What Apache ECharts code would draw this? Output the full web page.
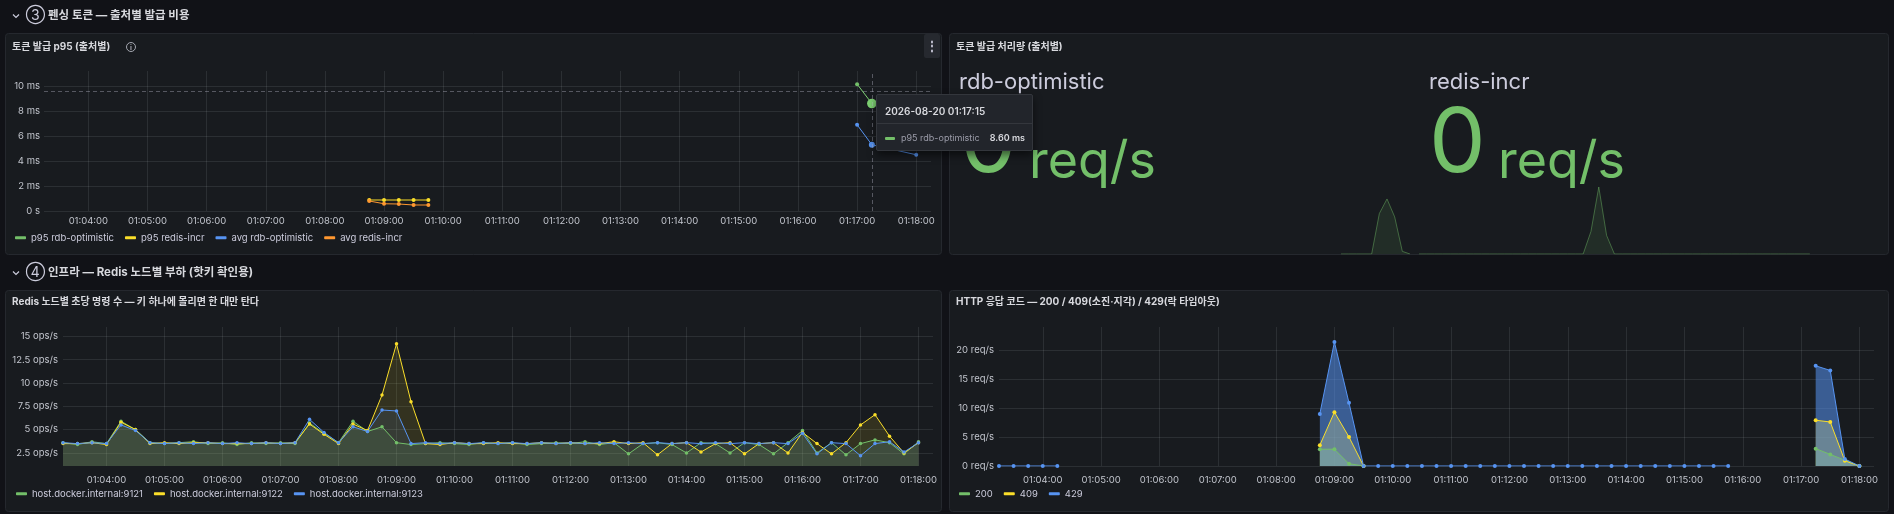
<!DOCTYPE html>
<html>
<head>
<meta charset="utf-8">
<script src="https://cdn.jsdelivr.net/npm/echarts@6.0.0/dist/echarts.min.js"></script>
<style>
  html, body { margin: 0; padding: 0; background: #111217; }
  #chart { width: 1894px; height: 514px; }
</style>
</head>
<body>
<div id="chart"></div>
<script>
// Dashboard range: 2026-08-20 01:03:15 - 01:18:15, 15 s scrape step
const day = [2026, 7, 20];
const rangeStart = "01:03:15";
const rangeEnd = "01:18:15";
const stepSec = 15;
const minuteTicks = [
  "01:04:00", "01:05:00", "01:06:00", "01:07:00", "01:08:00", "01:09:00", "01:10:00", "01:11:00",
  "01:12:00", "01:13:00", "01:14:00", "01:15:00", "01:16:00", "01:17:00", "01:18:00"
];

// ③ token issue p95 (ms)
const latencyTicks = [0, 2, 4, 6, 8, 10];
const rdbP95Times = ["01:17:00", "01:17:15"];
const p95RdbOptimistic = [10.15, 8.6];
const redisTimes = ["01:08:45", "01:09:00", "01:09:15", "01:09:30", "01:09:45"];
const p95RedisIncr = [0.88, 0.88, 0.88, 0.88, 0.88];
const rdbAvgTimes = ["01:17:00", "01:17:15", "01:18:00"];
const avgRdbOptimistic = [6.9, 5.3, 4.5];
const avgRedisIncr = [0.8, 0.58, 0.56, 0.48, 0.48];

// hovered point (shared cursor)
const hoverTime = "01:17:15";
const hoverValue = 9.6;

// ③ token issue throughput (req/s), sparklines
const rdbRateStart = "01:16:00";
const rdbOptimisticRate = [0, 0, 0, 0, 0, 6.1, 8.3, 5.6, 0.4, 0];
const redisRateStart = "01:03:15";
const redisIncrRate = [
  0, 0, 0, 0, 0, 0, 0, 0, 0, 0,
  0, 0, 0, 0, 0, 0, 0, 0, 0, 0,
  0, 0, 3.4, 10.1, 2.8, 0, 0, 0, 0, 0,
  0, 0, 0, 0, 0, 0, 0, 0, 0, 0,
  0, 0, 0, 0, 0, 0, 0, 0, 0, 0,
  0
];

// ④ redis ops/s per node, from 01:03:15 every 15 s
const opsTicks = [2.5, 5, 7.5, 10, 12.5, 15];
const opsStart = "01:03:15";
const node9121 = [
  3.6, 3.4, 3.7, 3.5, 5.9, 5.0, 3.6, 3.5, 3.6, 3.7,
  3.5, 3.6, 3.4, 3.6, 3.5, 3.6, 3.5, 5.7, 4.6, 3.6,
  5.9, 4.8, 5.3, 3.6, 3.4, 3.5, 3.6, 3.5, 3.4, 3.6,
  3.5, 3.6, 3.4, 3.5, 3.6, 3.5, 3.7, 3.4, 3.6, 2.4,
  3.5, 3.6, 3.4, 2.5, 3.6, 3.5, 2.5, 3.6, 3.4, 2.4,
  3.6, 4.9, 2.5, 3.6, 2.3, 3.5, 3.9, 3.6, 2.4, 3.7
];
const node9122 = [
  3.5, 3.5, 3.6, 3.4, 5.8, 5.0, 3.5, 3.6, 3.5, 3.6,
  3.6, 3.5, 3.5, 3.5, 3.6, 3.5, 3.6, 5.6, 4.5, 3.5,
  5.6, 4.9, 8.7, 14.2, 8.0, 3.5, 3.4, 3.6, 3.5, 3.5,
  3.6, 3.5, 3.5, 3.6, 3.5, 3.6, 3.5, 3.5, 3.7, 3.5,
  3.6, 2.3, 3.5, 3.6, 2.6, 3.5, 3.6, 2.4, 3.5, 3.6,
  2.5, 4.7, 3.5, 2.4, 3.6, 5.5, 6.6, 4.3, 2.5, 3.6
];
const node9123 = [
  3.6, 3.5, 3.6, 3.5, 5.5, 4.9, 3.6, 3.5, 3.6, 3.5,
  3.6, 3.5, 3.6, 3.5, 3.6, 3.5, 3.6, 6.1, 4.7, 3.6,
  5.3, 4.8, 7.1, 7.0, 3.5, 3.6, 3.5, 3.6, 3.5, 3.6,
  3.5, 3.6, 3.5, 3.6, 3.5, 3.6, 3.5, 3.6, 3.5, 3.6,
  3.5, 3.6, 3.5, 3.6, 3.5, 3.6, 3.5, 3.6, 3.5, 3.6,
  3.5, 4.6, 2.4, 3.6, 3.5, 2.2, 3.5, 3.7, 2.6, 3.6
];

// ④ HTTP status rate (req/s), from 01:03:15 every 15 s
const reqTicks = [0, 5, 10, 15, 20];
const httpStart = "01:03:15";
const http200 = [
  null, null, null, null, null, null, null, null, null, null,
  null, null, null, null, null, null, null, null, null, null,
  null, null, 2.9, 2.9, 0.4, 0, null, null, null, null,
  null, null, null, null, null, null, null, null, null, null,
  null, null, null, null, null, null, null, null, null, null,
  null, null, null, null, null, null, 3.0, 2.0, 1.0, 0
];
const http409 = [
  null, null, null, null, null, null, null, null, null, null,
  null, null, null, null, null, null, null, null, null, null,
  null, null, 3.6, 9.3, 5.0, 0, null, null, null, null,
  null, null, null, null, null, null, null, null, null, null,
  null, null, null, null, null, null, null, null, null, null,
  null, null, null, null, null, null, 7.9, 7.6, 0.9, 0
];
const http429 = [
  0, 0, 0, 0, 0, null, null, null, null, null,
  null, null, null, null, null, null, null, null, null, null,
  null, null, 9.0, 21.4, 10.9, 0, 0, 0, 0, 0,
  0, 0, 0, 0, 0, 0, 0, 0, 0, 0,
  0, 0, 0, 0, 0, 0, 0, 0, 0, 0,
  0, null, null, null, null, null, 17.3, 16.5, 1.2, 0
];

const FONT = "Inter, 'Noto Sans CJK KR', sans-serif";
const TEXT = "#ccccdc";
const AXIS_TEXT = "#c2c5cd";
const GRID_LINE = "rgba(240,250,255,0.09)";
const GREEN = "#73BF69";
const YELLOW = "#FADE2A";
const BLUE = "#5794F2";
const ORANGE = "#FF9830";

function ts(hms) {
  let p = hms.split(":").map(Number);
  return new Date(day[0], day[1], day[2], p[0], p[1], p[2]).getTime();
}

function pad(n) {
  return n < 10 ? "0" + n : "" + n;
}

function hms(v) {
  let d = new Date(v);
  return pad(d.getHours()) + ":" + pad(d.getMinutes()) + ":" + pad(d.getSeconds());
}

function zip(times, values) {
  return times.map((t, i) => [ts(t), values[i]]);
}

function stepped(start, values) {
  let t0 = ts(start);
  return values.map((v, i) => [t0 + i * stepSec * 1000, v]);
}

// x axes are plain value axes holding epoch ms, so label positions can be pinned
function timeAxis(gridIndex, show, margin) {
  let ticks = minuteTicks.map(ts);
  return {
    type: "value",
    gridIndex: gridIndex,
    show: show,
    min: ts(rangeStart),
    max: ts(rangeEnd),
    axisLine: { show: false },
    axisTick: { show: false, customValues: ticks },
    axisLabel: {
      customValues: ticks,
      formatter: hms,
      color: AXIS_TEXT,
      fontSize: 9.5,
      fontFamily: FONT,
      margin: margin,
      hideOverlap: false
    },
    splitLine: { show: true, lineStyle: { color: GRID_LINE, width: 1 } },
    axisPointer: { snap: true }
  };
}

function valueAxis(gridIndex, min, max, ticks, fmt, margin) {
  return {
    type: "value",
    gridIndex: gridIndex,
    min: min,
    max: max,
    axisLine: { show: false },
    axisTick: { show: false, customValues: ticks },
    axisLabel: {
      customValues: ticks,
      formatter: fmt,
      color: AXIS_TEXT,
      fontSize: 9.5,
      fontFamily: FONT,
      margin: margin
    },
    splitLine: { show: true, lineStyle: { color: GRID_LINE, width: 1 } },
    axisPointer: { snap: false, triggerTooltip: false }
  };
}

function lineSeries(name, color, axis, data, extra) {
  let s = {
    name: name,
    type: "line",
    xAxisIndex: axis,
    yAxisIndex: axis,
    data: data,
    color: color,
    symbol: "circle",
    symbolSize: 4,
    showSymbol: true,
    connectNulls: false,
    lineStyle: { width: 1, color: color },
    itemStyle: { color: color },
    emphasis: { disabled: true }
  };
  return Object.assign(s, extra || {});
}

function text(str, x, y, size, weight, color, align) {
  return {
    type: "text",
    x: x,
    y: y,
    z: 20,
    silent: true,
    style: {
      text: str,
      fill: color,
      font: weight + " " + size + "px " + FONT,
      verticalAlign: "middle",
      align: align || "left"
    }
  };
}

function panelBox(x, y, w, h) {
  return {
    type: "rect",
    z: -10,
    silent: true,
    shape: { x: x, y: y, width: w, height: h, r: 3 },
    style: { fill: "#181b1f", stroke: "#25282e", lineWidth: 1 }
  };
}

function chevron(cx, cy) {
  return {
    type: "polyline",
    z: 20,
    silent: true,
    shape: { points: [[cx - 3, cy - 1.5], [cx, cy + 1.5], [cx + 3, cy - 1.5]] },
    style: { stroke: TEXT, lineWidth: 1.2, fill: null }
  };
}

// stat values = last sample of each throughput series
const rdbLast = Math.round(rdbOptimisticRate[rdbOptimisticRate.length - 1]);
const redisLast = Math.round(redisIncrRate[redisIncrRate.length - 1]);
const sparkMax = Math.max(...rdbOptimisticRate, ...redisIncrRate);

const chart = echarts.init(document.getElementById("chart"));

const legendCommon = {
  orient: "horizontal",
  padding: 0,
  itemGap: 11,
  itemWidth: 11,
  itemHeight: 3,
  icon: "roundRect",
  selectedMode: false,
  textStyle: { color: TEXT, fontSize: 9.5, fontFamily: FONT }
};

const option = {
  animation: false,
  backgroundColor: "#111217",
  grid: [
    { left: 44, top: 71, width: 887, height: 140, containLabel: false, outerBoundsMode: "none" },
    { left: 63, top: 327, width: 870, height: 139, containLabel: false, outerBoundsMode: "none" },
    { left: 999, top: 327, width: 875, height: 139, containLabel: false, outerBoundsMode: "none" },
    { left: 950, top: 187, width: 460, height: 67, containLabel: false, outerBoundsMode: "none" },
    { left: 1419, top: 187, width: 469, height: 67, containLabel: false, outerBoundsMode: "none" }
  ],
  xAxis: [
    timeAxis(0, true, 5),
    timeAxis(1, true, 9),
    timeAxis(2, true, 9),
    timeAxis(3, false, 0),
    timeAxis(4, false, 0)
  ],
  yAxis: [
    valueAxis(0, 0, 11.2, latencyTicks, v => (v === 0 ? "0 s" : v + " ms"), 4),
    valueAxis(1, 1.1, 16, opsTicks, v => v + " ops/s", 5),
    valueAxis(2, 0, 24, reqTicks, v => v + " req/s", 5),
    { type: "value", gridIndex: 3, show: false, min: 0, max: sparkMax },
    { type: "value", gridIndex: 4, show: false, min: 0, max: sparkMax }
  ],
  legend: [
    Object.assign({ left: 15, top: 233, data: ["p95 rdb-optimistic", "p95 redis-incr", "avg rdb-optimistic", "avg redis-incr"] }, legendCommon),
    Object.assign({ left: 16, top: 489, data: ["host.docker.internal:9121", "host.docker.internal:9122", "host.docker.internal:9123"] }, legendCommon),
    Object.assign({ left: 959, top: 489, data: ["200", "409", "429"] }, legendCommon)
  ],
  tooltip: {
    show: true,
    trigger: "axis",
    triggerOn: "none",
    alwaysShowContent: true,
    transitionDuration: 0,
    showDelay: 0,
    confine: false,
    padding: 0,
    backgroundColor: "#22252b",
    borderColor: "#33363c",
    borderWidth: 1,
    extraCssText: "border-radius:2px;box-shadow:0 4px 8px rgba(0,0,0,0.55);",
    axisPointer: {
      type: "cross",
      label: { show: false },
      crossStyle: { color: "rgba(204,204,220,0.35)", width: 1, type: [4, 3] },
      lineStyle: { color: "rgba(204,204,220,0.35)", width: 1, type: [4, 3] }
    },
    position: function () {
      return [876, 94];
    },
    formatter: function (params) {
      let list = Array.isArray(params) ? params : [params];
      let p = list.find(q => q.seriesName === "p95 rdb-optimistic") || list[0];
      if (!p) return "";
      let t = p.data[0];
      let d = new Date(t);
      let head = d.getFullYear() + "-" + pad(d.getMonth() + 1) + "-" + pad(d.getDate()) + " " + hms(t);
      return (
        "<div style=\"min-width:155px;box-sizing:border-box;white-space:nowrap;font-family:Inter,'Noto Sans CJK KR',sans-serif;font-size:9px;line-height:12px;\">" +
        "<div style=\"padding:10px 8px 6px 8px;font-weight:600;font-size:10px;color:#d8d9de;border-bottom:1px solid #34373d;\">" + head + "</div>" +
        "<div style=\"padding:8px 7px 6px 8px;display:flex;align-items:center;\">" +
        "<span style=\"display:inline-block;width:10px;height:3px;border-radius:1px;background:" + p.color + ";margin-right:6px;\"></span>" +
        "<span style=\"flex:1;color:rgba(204,204,220,0.7);\">" + p.seriesName + "</span>" +
        "<span style=\"margin-left:9px;font-weight:600;color:#d8d9de;\">" + p.data[1].toFixed(2) + " ms</span>" +
        "</div></div>"
      );
    }
  },
  series: [
    lineSeries("p95 rdb-optimistic", GREEN, 0, zip(rdbP95Times, p95RdbOptimistic), { emphasis: { scale: 2.4, focus: "none", lineStyle: { width: 1 } } }),
    lineSeries("p95 redis-incr", YELLOW, 0, zip(redisTimes, p95RedisIncr)),
    lineSeries("avg rdb-optimistic", BLUE, 0, zip(rdbAvgTimes, avgRdbOptimistic)),
    lineSeries("avg redis-incr", ORANGE, 0, zip(redisTimes, avgRedisIncr)),

    lineSeries("host.docker.internal:9121", GREEN, 1, stepped(opsStart, node9121), { symbolSize: 3.5, areaStyle: { color: GREEN, opacity: 0.13, origin: "start" } }),
    lineSeries("host.docker.internal:9122", YELLOW, 1, stepped(opsStart, node9122), { symbolSize: 3.5, areaStyle: { color: YELLOW, opacity: 0.12, origin: "start" } }),
    lineSeries("host.docker.internal:9123", BLUE, 1, stepped(opsStart, node9123), { symbolSize: 3.5, areaStyle: { color: BLUE, opacity: 0.1, origin: "start" } }),

    lineSeries("200", GREEN, 2, stepped(httpStart, http200), { areaStyle: { color: GREEN, opacity: 0.5, origin: "start" } }),
    lineSeries("409", YELLOW, 2, stepped(httpStart, http409), { areaStyle: { color: YELLOW, opacity: 0.45, origin: "start" } }),
    lineSeries("429", BLUE, 2, stepped(httpStart, http429), { areaStyle: { color: BLUE, opacity: 0.55, origin: "start" } }),

    lineSeries("rdb-optimistic rate", GREEN, 3, stepped(rdbRateStart, rdbOptimisticRate), {
      showSymbol: false, symbol: "none", silent: true,
      lineStyle: { width: 1, color: "rgba(115,191,105,0.45)" },
      areaStyle: { color: "rgba(115,191,105,0.16)", origin: "start" }
    }),
    lineSeries("redis-incr rate", GREEN, 4, stepped(redisRateStart, redisIncrRate), {
      showSymbol: false, symbol: "none", silent: true,
      lineStyle: { width: 1, color: "rgba(115,191,105,0.45)" },
      areaStyle: { color: "rgba(115,191,105,0.16)", origin: "start" }
    })
  ],
  graphic: [
    panelBox(5.5, 33.5, 936, 221),
    panelBox(949.5, 33.5, 939, 221),
    panelBox(5.5, 290.5, 936, 221),
    panelBox(949.5, 290.5, 939, 221),

    // row headers
    chevron(16, 16),
    text("③", 35.5, 15.5, 14, "normal", TEXT, "center"),
    text("펜싱 토큰 — 출처별 발급 비용", 48, 15.5, 11.5, "bold", "#d8d9de"),
    chevron(16, 273),
    text("④", 35.5, 272.5, 14, "normal", TEXT, "center"),
    text("인프라 — Redis 노드별 부하 (핫키 확인용)", 48, 272.5, 11.5, "bold", "#d8d9de"),

    // panel titles
    text("토큰 발급 p95 (출처별)", 12, 47, 10, "bold", "#d8d9de"),
    {
      type: "circle", z: 20, silent: true,
      shape: { cx: 131, cy: 47, r: 4.5 },
      style: { fill: null, stroke: "#a4a7b0", lineWidth: 1 }
    },
    text("i", 131, 47.5, 7, "bold", "#a4a7b0", "center"),
    {
      type: "rect", z: 20, silent: true,
      shape: { x: 924, y: 34, width: 16, height: 24, r: 2 },
      style: { fill: "#26292f" }
    },
    text("⋮", 932, 46, 12, "bold", TEXT, "center"),
    text("토큰 발급 처리량 (출처별)", 956, 47, 10, "bold", "#d8d9de"),
    text("Redis 노드별 초당 명령 수 — 키 하나에 몰리면 한 대만 탄다", 12, 302, 10, "bold", "#d8d9de"),
    text("HTTP 응답 코드 — 200 / 409(소진·지각) / 429(락 타임아웃)", 956, 302, 10, "bold", "#d8d9de"),

    // stat panel values
    text("rdb-optimistic", 959, 82, 22, "normal", TEXT),
    text(String(rdbLast), 960, 145, 90, "normal", GREEN),
    text("req/s", 1029, 162, 52, "normal", GREEN),
    text("redis-incr", 1429, 82, 22, "normal", TEXT),
    text(String(redisLast), 1429, 145, 90, "normal", GREEN),
    text("req/s", 1498, 162, 52, "normal", GREEN)
  ]
};

chart.setOption(option);

// Grafana shared cursor: hovered on p95 rdb-optimistic at 01:17:15
let pt = chart.convertToPixel({ gridIndex: 0 }, [ts(hoverTime), hoverValue]);
chart.dispatchAction({ type: "showTip", x: pt[0], y: pt[1] });
</script>
</body>
</html>
